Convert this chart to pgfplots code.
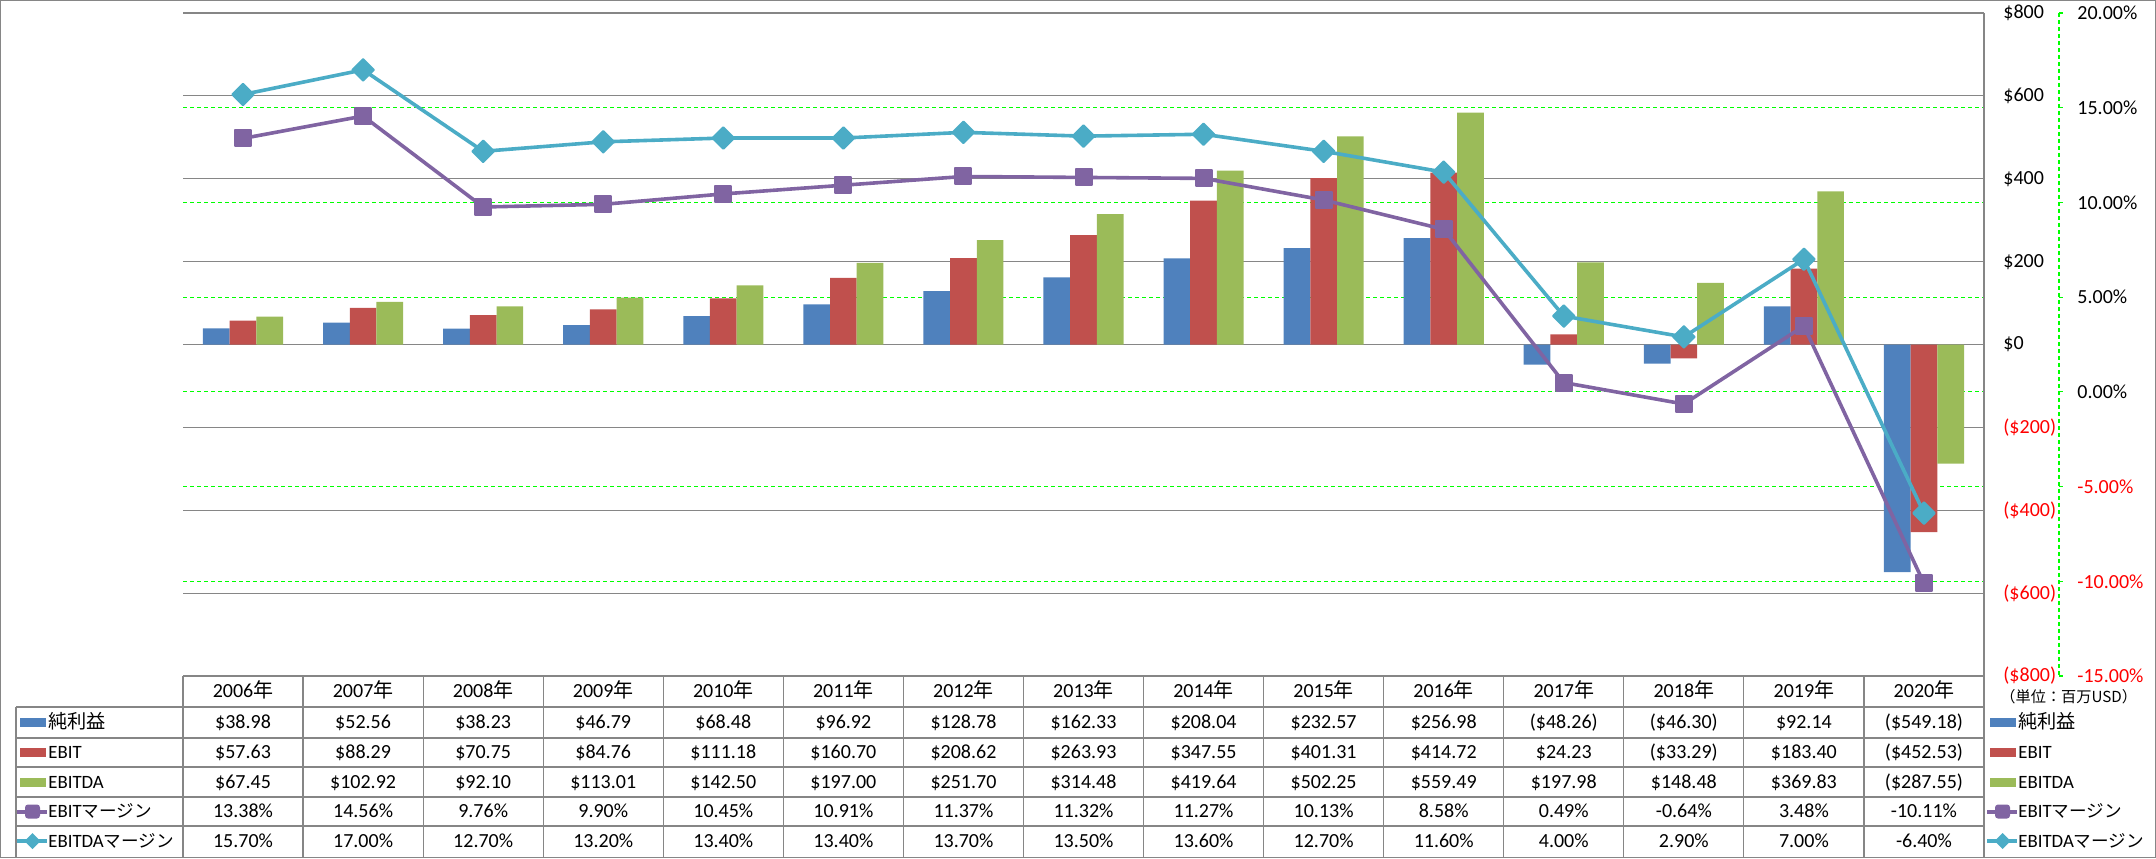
\documentclass[border=0pt]{standalone}
\usepackage{fontspec}
\setmainfont{Carlito}
\newfontfamily\jp{Noto Sans CJK JP}
\usepackage{pgfplots}
\pgfplotsset{compat=1.18}
\definecolor{cBlue}{HTML}{4F81BD}
\definecolor{cRed}{HTML}{C0504D}
\definecolor{cGreen}{HTML}{9BBB59}
\definecolor{cPurple}{HTML}{8064A2}
\definecolor{cCyan}{HTML}{4BACC6}
\definecolor{gridgray}{HTML}{868686}
\definecolor{cLime}{HTML}{00FF00}
\definecolor{negred}{HTML}{FF0000}
\newcommand\tf{\fontsize{10}{12}\selectfont}
\newcommand\lf{\fontsize{9.4}{11}\selectfont}
\newcommand\jpa{\jp\fontsize{9.6}{11}\selectfont}
\newcommand\jpb{\jp\fontsize{8.8}{11}\selectfont}
\begin{document}
\begin{tikzpicture}
% ---------- bars axis ($) ----------
\begin{axis}[
  set layers,
  at={(91.5pt,-338pt)}, anchor=south west,
  scale only axis, width=900.5pt, height=331.5pt,
  xmin=-0.5, xmax=14.5, ymin=-800, ymax=800,
  axis line style={draw=none},
  xtick=\empty,
  ytick={-800,-600,...,800},
  yticklabels={{\color{negred}(\$800)},{\color{negred}(\$600)},{\color{negred}(\$400)},{\color{negred}(\$200)},\$0,\$200,\$400,\$600,\$800},
  yticklabel pos=right,
  yticklabel style={anchor=west, inner sep=0pt, xshift=9.5pt, font=\tf},
  major tick length=0pt,
  ymajorgrids, grid style={draw=gridgray, line width=0.6pt, solid},
  ybar=0pt, bar width=13.35pt,
]
\addplot[fill=cBlue, draw=none] coordinates {(0,38.98)(1,52.56)(2,38.23)(3,46.79)(4,68.48)(5,96.92)(6,128.78)(7,162.33)(8,208.04)(9,232.57)(10,256.98)(11,-48.26)(12,-46.30)(13,92.14)(14,-549.18)};
\addplot[fill=cRed, draw=none] coordinates {(0,57.63)(1,88.29)(2,70.75)(3,84.76)(4,111.18)(5,160.70)(6,208.62)(7,263.93)(8,347.55)(9,401.31)(10,414.72)(11,24.23)(12,-33.29)(13,183.40)(14,-452.53)};
\addplot[fill=cGreen, draw=none] coordinates {(0,67.45)(1,102.92)(2,92.10)(3,113.01)(4,142.50)(5,197.00)(6,251.70)(7,314.48)(8,419.64)(9,502.25)(10,559.49)(11,197.98)(12,148.48)(13,369.83)(14,-287.55)};
\end{axis}
% ---------- margin axis (%) ----------
\begin{axis}[
  set layers,
  at={(91.5pt,-338pt)}, anchor=south west,
  scale only axis, width=900.5pt, height=331.5pt,
  xmin=-0.5, xmax=14.5, ymin=-15, ymax=20,
  axis line style={draw=none},
  xtick=\empty,
  ytick={-10,-5,...,15},
  yticklabels={{\color{negred}-10.00\%},{\color{negred}-5.00\%},0.00\%,5.00\%,10.00\%,15.00\%},
  extra y ticks={-15,20},
  extra y tick labels={{\color{negred}-15.00\%},20.00\%},
  extra y tick style={grid=none},
  yticklabel pos=right,
  yticklabel style={anchor=west, inner sep=0pt, xshift=46.5pt, font=\tf},
  major tick length=0pt,
  ymajorgrids, grid style={draw=cLime, line width=0.6pt, dash pattern=on 2pt off 1.5pt},
  clip=false,
]
\addplot[cPurple, line width=1.8pt, mark=square*, mark size=4pt,
  mark options={fill=cPurple, draw=cPurple, line width=1pt, line join=round, solid}]
  coordinates {(0,13.38)(1,14.56)(2,9.76)(3,9.90)(4,10.45)(5,10.91)(6,11.37)(7,11.32)(8,11.27)(9,10.13)(10,8.58)(11,0.49)(12,-0.64)(13,3.48)(14,-10.11)};
\addplot[cCyan, line width=1.8pt, mark=square*, mark size=3.8pt,
  mark options={rotate=45, fill=cCyan, draw=cCyan, line width=1pt, line join=round, solid}]
  coordinates {(0,15.70)(1,17.00)(2,12.70)(3,13.20)(4,13.40)(5,13.40)(6,13.70)(7,13.50)(8,13.60)(9,12.70)(10,11.60)(11,4.00)(12,2.90)(13,7.00)(14,-6.40)};
\end{axis}
% ---------- frame, secondary axis line, data table, legend ----------
\begin{scope}[x=0.5pt,y=-0.5pt]
  \draw[gridgray, line width=0.6pt] (0.6,0.6) rectangle (2155.4,857.4);
  % secondary axis line
  \draw[cLime, line width=0.6pt, dash pattern=on 2pt off 1.5pt] (2059,13) -- (2059,676);
  \foreach \v in {-15,-10,...,20} \draw[cLime, line width=0.6pt] (2059,{13+(20-\v)*18.943}) -- ++(4,0);
  % table grid
  \draw[gridgray, line width=0.6pt] (183,676) -- (1984,676);
  \foreach \yy in {707,738,767,797,826} \draw[gridgray, line width=0.6pt] (16,\yy) -- (1984,\yy);
  \draw[gridgray, line width=0.6pt] (16,707) -- (16,857);
  \foreach \i in {0,...,14} \draw[gridgray, line width=0.6pt] ({183+120.0667*\i},676) -- ({183+120.0667*\i},857);
  \draw[gridgray, line width=0.6pt] (1984,13) -- (1984,857);
  % header
  \foreach \t [count=\i from 0] in {2006,2007,2008,2009,2010,2011,2012,2013,2014,2015,2016,2017,2018,2019,2020}
    \node[font=\tf, anchor=mid, inner sep=0pt] at ({183+120.0667*(\i+0.5)},693) {\t{\jp 年}};
  % rows
  \foreach \t [count=\i from 0] in {{\$38.98},{\$52.56},{\$38.23},{\$46.79},{\$68.48},{\$96.92},{\$128.78},{\$162.33},{\$208.04},{\$232.57},{\$256.98},{(\$48.26)},{(\$46.30)},{\$92.14},{(\$549.18)}}
    \node[font=\tf, anchor=mid, inner sep=0pt] at ({183+120.0667*(\i+0.5)},724) {\t};
  \foreach \t [count=\i from 0] in {{\$57.63},{\$88.29},{\$70.75},{\$84.76},{\$111.18},{\$160.70},{\$208.62},{\$263.93},{\$347.55},{\$401.31},{\$414.72},{\$24.23},{(\$33.29)},{\$183.40},{(\$452.53)}}
    \node[font=\tf, anchor=mid, inner sep=0pt] at ({183+120.0667*(\i+0.5)},754) {\t};
  \foreach \t [count=\i from 0] in {{\$67.45},{\$102.92},{\$92.10},{\$113.01},{\$142.50},{\$197.00},{\$251.70},{\$314.48},{\$419.64},{\$502.25},{\$559.49},{\$197.98},{\$148.48},{\$369.83},{(\$287.55)}}
    \node[font=\tf, anchor=mid, inner sep=0pt] at ({183+120.0667*(\i+0.5)},783.5) {\t};
  \foreach \t [count=\i from 0] in {13.38,14.56,9.76,9.90,10.45,10.91,11.37,11.32,11.27,10.13,8.58,0.49,-0.64,3.48,-10.11}
    \node[font=\tf, anchor=mid, inner sep=0pt] at ({183+120.0667*(\i+0.5)},813) {\t\%};
  \foreach \t [count=\i from 0] in {15.70,17.00,12.70,13.20,13.40,13.40,13.70,13.50,13.60,12.70,11.60,4.00,2.90,7.00,-6.40}
    \node[font=\tf, anchor=mid, inner sep=0pt] at ({183+120.0667*(\i+0.5)},842.5) {\t\%};
  % row labels with keys (left) and legend (right)
  \foreach \kx/\tx in {20/48, 1990/2018} {
    \fill[cBlue] (\kx,718) rectangle ++(26,9);
    \fill[cRed] (\kx,748) rectangle ++(26,9);
    \fill[cGreen] (\kx,777.5) rectangle ++(26,9);
    \draw[cPurple, line width=2pt] ({\kx-3},811.5) -- ({\kx+27},811.5);
    \fill[cPurple, rounded corners=1.5pt] ({\kx+5},804.5) rectangle ++(15,14);
    \draw[cCyan, line width=2pt] ({\kx-3},841) -- ({\kx+27},841);
    \fill[cCyan] ({\kx+12.5},833) -- ({\kx+20.5},841) -- ({\kx+12.5},849) -- ({\kx+4.5},841) -- cycle;
    \node[font=\lf, anchor=mid west, inner sep=0pt] at (\tx,724) {\jpa 純利益};
    \node[font=\lf, anchor=mid west, inner sep=0pt] at (\tx,754) {EBIT};
    \node[font=\lf, anchor=mid west, inner sep=0pt] at (\tx,783.5) {EBITDA};
    \node[font=\lf, anchor=mid west, inner sep=0pt] at (\tx,813) {EBIT{\jpb マージン}};
    \node[font=\lf, anchor=mid west, inner sep=0pt] at (\tx,842.5) {EBITDA{\jpb マージン}};
  }
  \node[font=\jp\fontsize{7.6}{9}\selectfont, anchor=mid west, inner sep=0pt] at (2000,698) {（単位：百万USD）};
\end{scope}
\end{tikzpicture}
\end{document}
